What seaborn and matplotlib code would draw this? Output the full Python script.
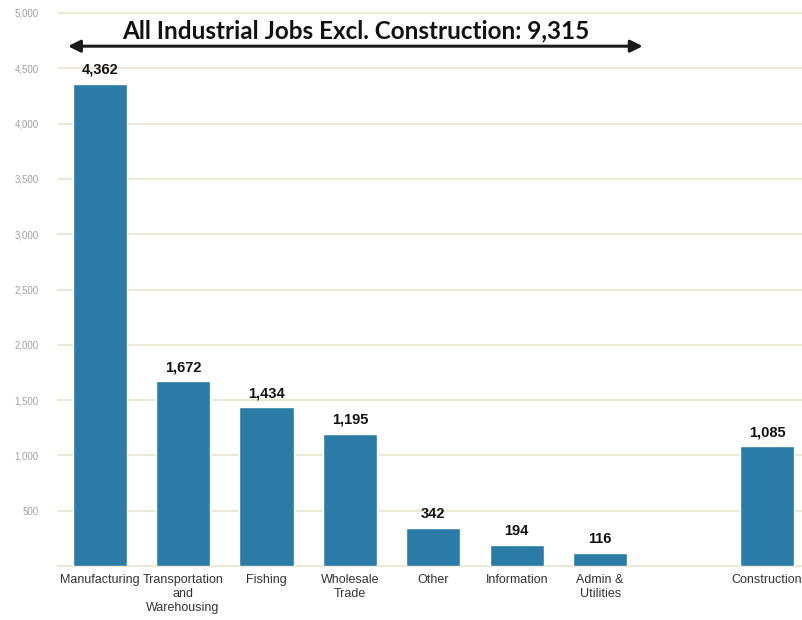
import matplotlib
matplotlib.use("Agg")
import matplotlib.pyplot as plt
import seaborn as sns
import pandas as pd

# Industrial employment by sector
categories = ["Manufacturing", "Transportation\nand\nWarehousing", "Fishing",
              "Wholesale\nTrade", "Other", "Information", "Admin &\nUtilities",
              "Construction"]
jobs = [4362, 1672, 1434, 1195, 342, 194, 116, 1085]
total_excl_construction = 9315
y_ticks = list(range(0, 5001, 500))

# blank slot separating construction from the other sectors
gap = " "
order = categories[:-1] + [gap] + categories[-1:]

df = pd.DataFrame({"sector": categories, "jobs": jobs})

sns.set_theme(style="white")
plt.rcParams["font.family"] = ["Liberation Sans", "DejaVu Sans"]

fig = plt.figure(figsize=(8.02, 6.2), dpi=100)
ax = fig.add_axes([58 / 802, 54 / 620, 1 - 58 / 802, 553 / 620])

bar_color = "#2a7ca6"
sns.barplot(data=df, x="sector", y="jobs", order=order, color=bar_color,
            width=0.65, saturation=1, ax=ax, zorder=3)

ax.set_xlim(-0.5, 8.42)
ax.set_ylim(0, 5000)

# value labels above bars
for cat, val in zip(categories, jobs):
    xi = order.index(cat)
    ax.annotate(f"{val:,}", xy=(xi, val), xytext=(0, 5),
                textcoords="offset points", ha="center", va="bottom",
                fontsize=10.5, fontweight="bold", color="#111111")

# gridlines
ax.set_yticks(y_ticks)
ax.set_yticklabels(["" if t == 0 else f"{t:,}" for t in y_ticks],
                   fontsize=7, color="#a0a0a0")
for t in y_ticks:
    ax.axhline(t, color="#ebe6cf", linewidth=1.3, zorder=1, clip_on=False)
ax.tick_params(axis="y", length=0, pad=14)
ax.tick_params(axis="x", length=0, pad=6, labelsize=9, labelcolor="#333333")
ax.set_xlabel("")
ax.set_ylabel("")
for s in ax.spines.values():
    s.set_visible(False)

# span arrow for all industrial jobs excluding construction
ax.annotate("", xy=(-0.38, 4700), xytext=(6.51, 4700),
            arrowprops=dict(arrowstyle="<|-|>", color="#1a1a1a", lw=2.2,
                            mutation_scale=18, shrinkA=0, shrinkB=0),
            zorder=5)
ax.text(3.07, 4840, f"All Industrial Jobs Excl. Construction: {total_excl_construction:,}",
        ha="center", va="center", fontsize=17.5, fontweight="bold",
        color="#111111", family=["Lato", "DejaVu Sans"])

fig.savefig("out.png", dpi=100, facecolor="white")
